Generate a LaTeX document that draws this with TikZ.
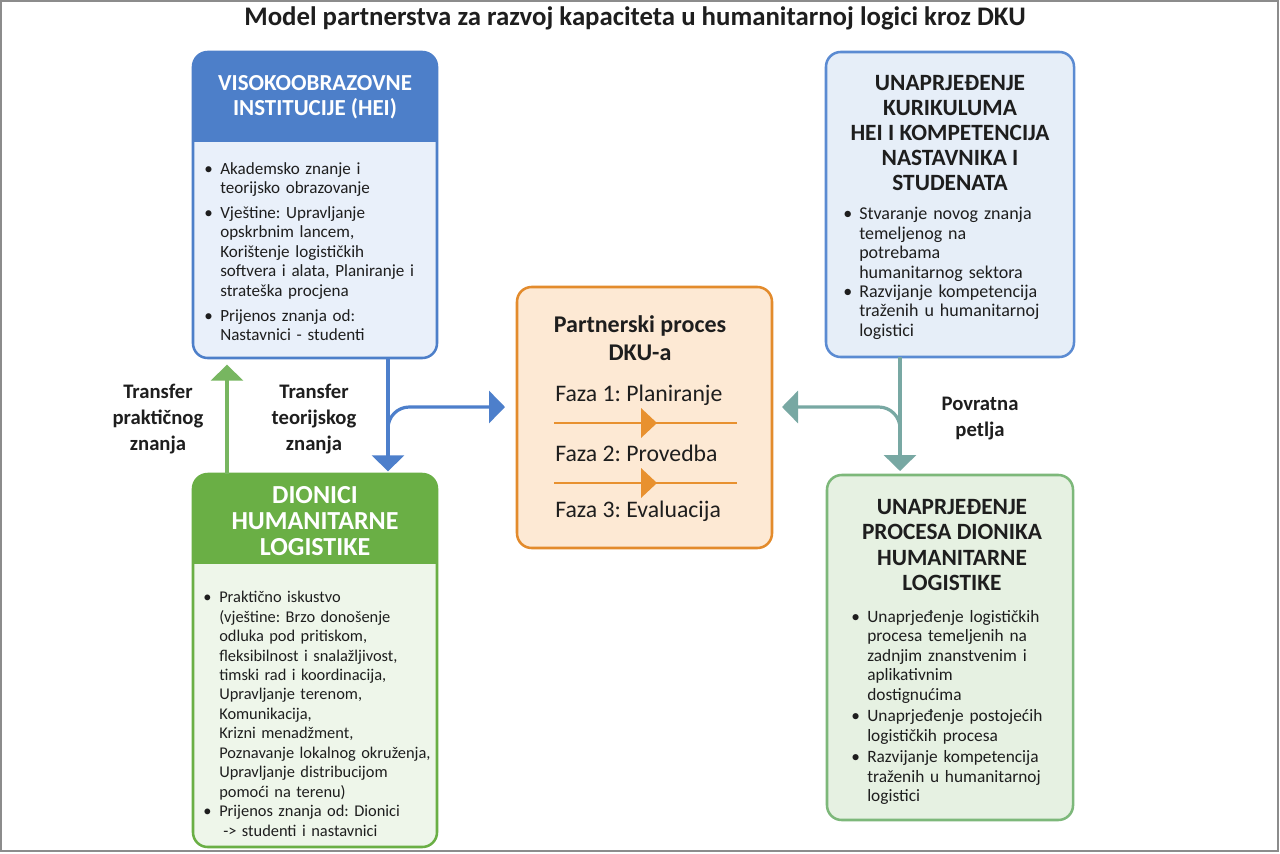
\documentclass[tikz,border=0pt]{standalone}
\usepackage{fontspec}
\setmainfont{Carlito}
\usetikzlibrary{arrows.meta}
\frenchspacing
\definecolor{hblue}{HTML}{4D7FC9}
\definecolor{hbluefill}{HTML}{E9F0FA}
\definecolor{tblue}{HTML}{5B8BD2}
\definecolor{tbluefill}{HTML}{E6EEF8}
\definecolor{hgreen}{HTML}{6AAF45}
\definecolor{hgreenfill}{HTML}{EEF6EA}
\definecolor{bgreen}{HTML}{7DB87A}
\definecolor{bgreenfill}{HTML}{E6F1E2}
\definecolor{corange}{HTML}{E38B2C}
\definecolor{corangefill}{HTML}{FDE9D4}
\definecolor{lorange}{HTML}{E8912F}
\definecolor{cteal}{HTML}{78A8A3}
\definecolor{agreen}{HTML}{77B660}
\definecolor{ablue}{HTML}{4D7FCB}
\definecolor{ink}{HTML}{1E1E1E}
\newcommand{\bitem}[1]{\hangindent=12pt\hangafter=1\noindent\makebox[12pt][l]{\textbullet}#1\par}
\begin{document}
\begin{tikzpicture}[x=0.75pt,y=-0.75pt,
  boxshape/.style={rectangle,rounded corners=11pt,line width=1.9pt,inner sep=0pt,outer sep=0pt},
  hdrtext/.style={text=white,align=center,font=\fontsize{17.2}{18.8}\selectfont\bfseries,inner sep=0pt},
  ttltext/.style={text=ink,align=center,font=\fontsize{17.5}{18.9}\selectfont\bfseries,inner sep=0pt},
  bodytext/.style={text=ink,text width=200pt,align=left,inner sep=0pt,anchor=north west,font=\fontsize{12.8}{14.6}\selectfont},
  lbltext/.style={text=ink,align=center,font=\fontsize{15.5}{19.5}\selectfont\bfseries,inner sep=0pt},
  fazatext/.style={text=ink,anchor=west,inner sep=0pt,font=\fontsize{17.8}{20}\selectfont},
  conn/.style={line width=2.4pt},
  tipv/.style={-{Triangle[length=12pt,width=24pt]}},
]
\useasboundingbox (0,0) rectangle (1280,853);
\fill[white] (0,0) rectangle (1280,853);
\draw[gray!90,line width=1.5pt] (1,1) rectangle (1278,851);

% title
\node[text=ink,font=\fontsize{20.1}{24}\selectfont\bfseries,inner sep=0pt] (title) at (635,18)
  {Model partnerstva za razvoj kapaciteta u humanitarnoj logici kroz DKU};

% HEI box
\node[boxshape,fill=hbluefill,minimum width=183pt,minimum height=229.5pt,anchor=north west] (hei) at (193,52) {};
\begin{scope}
  \clip[rounded corners=11pt] (hei.north west) rectangle (hei.south east);
  \fill[hblue] (hei.north west) rectangle (437,142);
\end{scope}
\draw[hblue,line width=1.9pt,rounded corners=11pt] (hei.north west) rectangle (hei.south east);
\node[hdrtext] (heit) at (315,97) {VISOKOOBRAZOVNE\\INSTITUCIJE (HEI)};
\node[bodytext] (heib) at (204,162) {%
\bitem{Akademsko znanje i\newline teorijsko obrazovanje}\vspace{4pt}
\bitem{Vještine: Upravljanje\newline opskrbnim lancem,\newline Korištenje logističkih\newline softvera i alata, Planiranje i\newline strateška procjena}\vspace{4pt}
\bitem{Prijenos znanja od:\newline Nastavnici - studenti}};

% top-right box
\node[boxshape,draw=tblue,fill=tbluefill,minimum width=186pt,minimum height=228.75pt,anchor=north west] (cur) at (826,52) {};
\node[ttltext] (curt) at (950,133) {UNAPRJEĐENJE\\KURIKULUMA\\HEI I KOMPETENCIJA\\NASTAVNIKA I\\STUDENATA};
\node[bodytext,font=\fontsize{13.5}{14.6}\selectfont] (curb) at (843,207) {%
\bitem{Stvaranje novog znanja\newline temeljenog na\newline potrebama\newline humanitarnog sektora}
\bitem{Razvijanje kompetencija\newline traženih u humanitarnoj\newline logistici}};

% centre box
\node[boxshape,draw=corange,fill=corangefill,minimum width=191.25pt,minimum height=195.75pt,anchor=north west] (dku) at (517,287) {};
\node[text=ink,align=center,inner sep=0pt,font=\fontsize{18}{21.5}\selectfont\bfseries] (dkut) at (640,338) {Partnerski proces\\DKU-a};
\node[fazatext] (f1) at (555,395) {Faza 1: Planiranje};
\node[fazatext] (f2) at (555,453) {Faza 2: Provedba};
\node[fazatext] (f3) at (555,511) {Faza 3: Evaluacija};
\coordinate (l1a) at (554,423); \coordinate (l1b) at (737,423);
\coordinate (l2a) at (554,483); \coordinate (l2b) at (737,483);
\draw[lorange,line width=2.2pt] (l1a) -- (l1b);
\draw[lorange,line width=2.2pt] (l2a) -- (l2b);
\fill[lorange] (641,408) -- (657,423) -- (641,438) -- cycle;
\fill[lorange] (641,468) -- (657,483) -- (641,498) -- cycle;

% DIONICI box
\node[boxshape,fill=hgreenfill,minimum width=183pt,minimum height=279.75pt,anchor=north west] (dio) at (193,474) {};
\begin{scope}
  \clip[rounded corners=11pt] (dio.north west) rectangle (dio.south east);
  \fill[hgreen] (dio.north west) rectangle (437,564);
\end{scope}
\draw[hgreen,line width=1.9pt,rounded corners=11pt] (dio.north west) rectangle (dio.south east);
\node[hdrtext,font=\fontsize{19.5}{19.5}\selectfont\bfseries] (diot) at (315,521) {DIONICI\\HUMANITARNE\\LOGISTIKE};
\node[bodytext,font=\fontsize{12.3}{14.6}\selectfont] (diob) at (203,591) {%
\bitem{Praktično iskustvo\newline (vještine: Brzo donošenje\newline odluka pod pritiskom,\newline fleksibilnost i snalažljivost,\newline timski rad i koordinacija,\newline Upravljanje terenom,\newline Komunikacija,\newline Krizni menadžment,\newline Poznavanje lokalnog okruženja,\newline Upravljanje distribucijom\newline pomoći na terenu)}
\bitem{Prijenos znanja od: Dionici\newline\hspace*{3pt}-> studenti i nastavnici}};

% bottom-right box
\node[boxshape,draw=bgreen,fill=bgreenfill,minimum width=184.5pt,minimum height=258.75pt,anchor=north west] (imp) at (827,475) {};
\node[ttltext] (impt) at (952,545) {UNAPRJEĐENJE\\PROCESA DIONIKA\\HUMANITARNE\\LOGISTIKE};
\node[bodytext,font=\fontsize{13}{14.6}\selectfont] (impb) at (851,610) {%
\bitem{Unaprjeđenje logističkih\newline procesa temeljenih na\newline zadnjim znanstvenim i\newline aplikativnim\newline dostignućima}\vspace{1.5pt}
\bitem{Unaprjeđenje postojećih\newline logističkih procesa}\vspace{1.5pt}
\bitem{Razvijanje kompetencija\newline traženih u humanitarnoj\newline logistici}};

% connectors
\coordinate (gx) at (227,0);
\coordinate (bx) at (388,0);
\coordinate (tx) at (900,0);
\coordinate (bstart) at (388,440);
\coordinate (tstart) at (900,440);
\coordinate (bend) at (505,407);
\coordinate (tend) at (782,407);
\draw[agreen,conn,tipv] (dio.north -| gx) -- ([yshift=-5]hei.south -| gx);
\draw[ablue,conn,tipv] (hei.south -| bx) -- ([yshift=2]dio.north -| bx);
\draw[ablue,conn,tipv,rounded corners=16pt] (bstart) |- (bend);
\draw[cteal,conn,tipv] (cur.south -| tx) -- ([yshift=3]imp.north -| tx);
\draw[cteal,conn,tipv,rounded corners=16pt] (tstart) |- (tend);

% labels
\node[lbltext] (lprak) at (158,419) {Transfer\\praktičnog\\znanja};
\node[lbltext] (lteor) at (314,419) {Transfer\\teorijskog\\znanja};
\node[lbltext] (lpov) at (980,419) {Povratna\\petlja};
\end{tikzpicture}
\end{document}
